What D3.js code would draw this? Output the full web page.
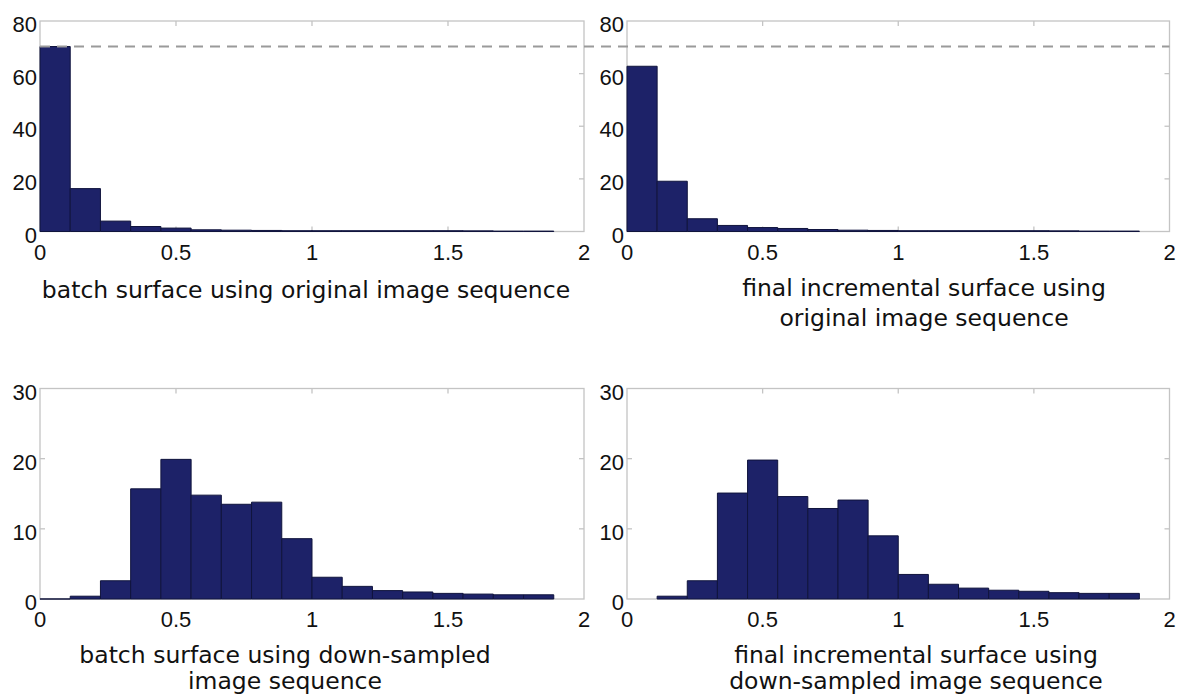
<!DOCTYPE html>
<html><head><meta charset="utf-8">
<script src="https://cdn.jsdelivr.net/npm/d3@7"></script>
<style>body{margin:0;background:#fff}svg{display:block}</style>
</head><body>
<svg id="c" width="1178" height="695"></svg>
<script>
// ---- data ----
const binWidth = 1 / 9;
const xTicks = [0, 0.5, 1, 1.5, 2];
const xTickLabels = ["0", "0.5", "1", "1.5", "2"];
const yTicksTop = [0, 20, 40, 60, 80];
const yTicksBottom = [0, 10, 20, 30];
const refLevel = 70.3;

const batchOriginal = [70.3, 16.3, 3.95, 1.9, 1.3, 0.65, 0.5, 0.4, 0.3, 0.3, 0.3, 0.3, 0.3, 0.3, 0.25, 0.15, 0.15];
const incrementalOriginal = [62.8, 19.1, 4.85, 2.3, 1.5, 1.15, 0.75, 0.5, 0.4, 0.3, 0.3, 0.3, 0.3, 0.3, 0.25, 0.15, 0.15];
const batchDown = [0, 0.4, 2.6, 15.7, 19.9, 14.8, 13.5, 13.8, 8.6, 3.1, 1.8, 1.2, 1.0, 0.8, 0.7, 0.6, 0.6];
const incrementalDown = [null, 0.4, 2.6, 15.1, 19.8, 14.6, 12.9, 14.1, 9.0, 3.5, 2.1, 1.55, 1.25, 1.1, 0.9, 0.8, 0.8];

const labelTL = ["batch surface using original image sequence"];
const labelTR = ["final incremental surface using", "original image sequence"];
const labelBL = ["batch surface using down-sampled", "image sequence"];
const labelBR = ["final incremental surface using", "down-sampled image sequence"];

// ---- layout ----
const svg = d3.select("#c");
const panels = [
  {vals: batchOriginal, yMax: 80, yTicks: yTicksTop, box: [40, 584, 21, 231.5], label: labelTL, lx: 306, ly: [298]},
  {vals: incrementalOriginal, yMax: 80, yTicks: yTicksTop, box: [627, 1169.5, 21, 231.5], label: labelTR, lx: 924, ly: [296, 326]},
  {vals: batchDown, yMax: 30, yTicks: yTicksBottom, box: [40, 584, 388.5, 599], label: labelBL, lx: 285, ly: [663, 689]},
  {vals: incrementalDown, yMax: 30, yTicks: yTicksBottom, box: [627, 1169.5, 388.5, 599], label: labelBR, lx: 916, ly: [663, 689]}
];

const frameColor = "#c4c4c4";
const barFill = "#1d2268";
const barStroke = "#10143d";

panels.forEach(p => {
  const [x0, x1, y0, y1] = p.box;
  p.x = d3.scaleLinear().domain([0, 2]).range([x0, x1]);
  p.y = d3.scaleLinear().domain([0, p.yMax]).range([y1, y0]);
  const g = svg.append("g");

  // frame
  g.append("rect").attr("x", x0).attr("y", y0).attr("width", x1 - x0).attr("height", y1 - y0)
    .attr("fill", "none").attr("stroke", frameColor).attr("stroke-width", 1.3);

  // inner ticks (top/bottom/left/right)
  const tl = 5;
  xTicks.slice(1, -1).forEach(t => {
    g.append("line").attr("x1", p.x(t)).attr("x2", p.x(t)).attr("y1", y0).attr("y2", y0 + tl).attr("stroke", frameColor).attr("stroke-width", 1.3);
    g.append("line").attr("x1", p.x(t)).attr("x2", p.x(t)).attr("y1", y1).attr("y2", y1 - tl).attr("stroke", frameColor).attr("stroke-width", 1.3);
  });
  p.yTicks.slice(1, -1).forEach(t => {
    g.append("line").attr("x1", x0).attr("x2", x0 + tl).attr("y1", p.y(t)).attr("y2", p.y(t)).attr("stroke", frameColor).attr("stroke-width", 1.3);
    g.append("line").attr("x1", x1).attr("x2", x1 - tl).attr("y1", p.y(t)).attr("y2", p.y(t)).attr("stroke", frameColor).attr("stroke-width", 1.3);
  });

  // bars (as paths so zero-height bins still show their edge)
  const data = p.vals.map((v, i) => ({v, i})).filter(d => d.v !== null);
  g.selectAll("path.bar").data(data).enter().append("path").attr("class", "bar")
    .attr("d", d => {
      const a = p.x(d.i * binWidth), b = p.x((d.i + 1) * binWidth);
      const t = p.y(d.v), z = p.y(0);
      return `M${a},${z}V${t}H${b}V${z}Z`;
    })
    .attr("fill", barFill).attr("stroke", barStroke).attr("stroke-width", 1);

  // tick labels
  const font = "'Liberation Sans', Arial, sans-serif";
  g.selectAll("text.xt").data(xTicks).enter().append("text").attr("class", "xt")
    .attr("x", d => p.x(d)).attr("y", y1 + 28)
    .attr("text-anchor", "middle").attr("font-family", font).attr("font-size", 22).attr("fill", "#111")
    .text((d, i) => xTickLabels[i]);
  g.selectAll("text.yt").data(p.yTicks).enter().append("text").attr("class", "yt")
    .attr("x", x0 - 3).attr("y", d => p.y(d) + 11)
    .attr("text-anchor", "end").attr("font-family", font).attr("font-size", 22).attr("fill", "#111")
    .text(d => d);

  // caption
  p.label.forEach((s, i) => {
    g.append("text").attr("x", p.lx).attr("y", p.ly[i]).attr("text-anchor", "middle")
      .attr("font-family", "'DejaVu Sans', sans-serif").attr("font-size", 23.5).attr("fill", "#111").text(s);
  });
});

// dashed reference line across the top row
const pl = panels[0], pr = panels[1];
svg.append("line")
  .attr("x1", pl.x(0)).attr("x2", pr.x(2))
  .attr("y1", pl.y(refLevel)).attr("y2", pl.y(refLevel))
  .attr("stroke", "#9a9a9a").attr("stroke-width", 2).attr("stroke-dasharray", "10,7");
</script>
</body></html>
